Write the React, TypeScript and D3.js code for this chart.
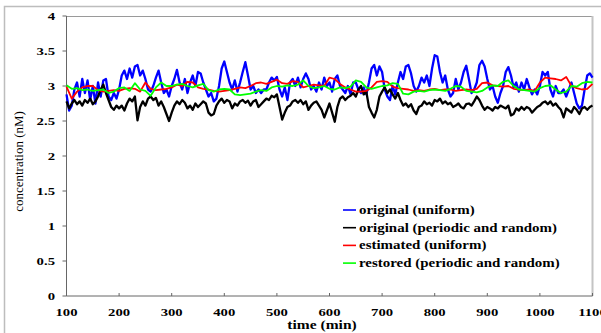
import React from 'react';
import * as d3 from 'd3';

// ---- data ----
const fineStart = 100; // minutes, step 5
const fineStep = 5;
const coarseStep = 10;

const originalUniform = [
  2.88, 2.65, 2.72, 2.95, 3.05, 2.85, 3.10, 2.90, 3.08, 2.80, 3.00, 2.75, 3.05, 2.85, 3.08, 3.10, 2.85, 2.80, 2.90, 2.82,
  2.95, 3.15, 3.22, 3.10, 3.25, 3.12, 3.28, 3.30, 3.15, 3.22, 3.10, 2.95, 2.92, 3.00, 3.12, 3.22, 3.05, 2.90, 2.95, 2.85,
  3.00, 3.10, 3.23, 3.05, 2.95, 3.10, 2.90, 3.05, 3.15, 3.00, 3.20, 3.18, 3.05, 2.95, 2.85, 2.90, 2.78, 2.82, 3.00, 3.25,
  3.35, 3.20, 3.05, 2.95, 3.08, 2.92, 3.05, 3.20, 3.34, 3.15, 2.95, 3.00, 2.90, 2.95, 2.90, 2.95, 2.95, 3.05, 3.12, 3.08,
  3.13, 2.95, 2.85, 2.98, 2.80, 3.05, 3.10, 3.00, 3.12, 2.98, 3.10, 3.18, 3.10, 2.95, 3.00, 2.92, 3.05, 2.95, 3.12, 3.00,
  3.05, 2.92, 3.10, 3.15, 3.00, 2.95, 2.90, 3.00, 2.88, 3.05, 3.05, 2.95, 2.90, 2.98, 2.88, 3.05, 3.25, 3.30, 3.15, 3.28,
  3.20, 2.95, 2.85, 2.80, 3.00, 2.88, 3.05, 3.20, 3.10, 3.28, 3.30, 3.18, 3.00, 2.92, 3.00, 3.12, 3.05, 3.15, 3.00, 3.25,
  3.44, 3.42, 3.20, 3.05, 3.15, 2.95, 2.85, 2.90, 3.10, 2.95, 3.05, 3.20, 3.29, 3.10, 2.90, 2.95, 3.05, 3.30, 3.36, 3.28,
  3.10, 2.95, 3.00, 2.85, 2.76, 2.90, 3.00, 3.20, 3.27, 3.15, 2.98, 3.05, 2.92, 3.05, 2.95, 3.10, 2.98, 2.88, 2.95, 2.88,
  3.00, 3.20, 3.15, 3.20, 2.95, 2.85, 3.00, 2.90, 2.90, 2.95, 2.85, 2.95, 3.05, 2.90, 2.75, 2.68, 2.72, 2.95, 3.15, 3.18,
  3.12,
];

const originalPeriodicRandom = [
  2.78, 2.68, 2.75, 2.80, 2.74, 2.78, 2.72, 2.80, 2.76, 2.82, 2.74, 2.78, 2.85, 2.95, 3.02, 2.90, 2.80, 2.70, 2.66, 2.72,
  2.68, 2.72, 2.65, 2.75, 2.82, 2.78, 2.85, 2.51, 2.70, 2.78, 2.72, 2.82, 2.85, 2.80, 2.83, 2.72, 2.78, 2.70, 2.60, 2.50,
  2.62, 2.72, 2.78, 2.74, 2.80, 2.76, 2.68, 2.72, 2.66, 2.75, 2.70, 2.74, 2.78, 2.75, 2.62, 2.58, 2.60, 2.72, 2.78, 2.82,
  2.76, 2.80, 2.78, 2.68, 2.75, 2.72, 2.78, 2.80, 2.76, 2.79, 2.72, 2.78, 2.80, 2.70, 2.74, 2.78, 2.82, 2.80, 2.86, 2.84,
  2.88, 2.70, 2.52, 2.62, 2.70, 2.72, 2.78, 2.80, 2.76, 2.80, 2.74, 2.78, 2.66, 2.72, 2.76, 2.78, 2.72, 2.66, 2.55, 2.65,
  2.75, 2.62, 2.49, 2.70, 2.82, 2.85, 2.80, 2.84, 2.86, 2.90, 2.85, 2.95, 3.00, 2.88, 2.92, 2.70, 2.62, 2.55, 2.66, 2.85,
  2.92, 2.98, 2.90, 2.95, 2.88, 2.82, 2.90, 2.80, 2.72, 2.75, 2.70, 2.74, 2.65, 2.60, 2.70, 2.72, 2.78, 2.74, 2.76, 2.72,
  2.80, 2.78, 2.82, 2.75, 2.78, 2.74, 2.76, 2.70, 2.72, 2.75, 2.70, 2.68, 2.74, 2.75, 2.72, 2.78, 2.85, 2.80, 2.72, 2.66,
  2.70, 2.68, 2.65, 2.70, 2.68, 2.72, 2.70, 2.68, 2.72, 2.58, 2.60, 2.68, 2.65, 2.70, 2.66, 2.70, 2.68, 2.62, 2.66, 2.70,
  2.72, 2.76, 2.78, 2.74, 2.78, 2.72, 2.75, 2.70, 2.66, 2.55, 2.68, 2.65, 2.62, 2.70, 2.66, 2.60, 2.68, 2.70, 2.66, 2.70,
  2.72,
];

const estimatedUniform = [
  2.99, 2.82, 2.92, 2.98, 3.00, 3.00, 2.94, 2.92, 2.93, 2.94,
  2.93, 2.96, 2.97, 2.96, 2.92, 3.05, 2.96, 2.94, 2.95, 2.96,
  2.98, 3.02, 3.00, 3.06, 3.05, 2.98, 2.96, 2.95, 2.93, 2.92,
  2.93, 2.94, 2.96, 2.98, 2.97, 3.00, 3.04, 3.05, 3.03, 3.06,
  3.09, 3.04, 3.03, 3.07, 3.06, 2.98, 3.00, 3.02, 3.01, 3.00,
  3.12, 3.10, 3.03, 2.98, 2.95, 2.92, 2.92, 2.93, 2.98, 3.06,
  3.07, 3.06, 2.99, 2.97, 2.96, 2.95, 2.93, 2.94, 2.93, 2.95,
  2.96, 2.94, 2.95, 2.95, 2.93, 2.94, 2.95, 2.94, 2.96, 3.04,
  3.05, 3.01, 3.00, 2.99, 3.00, 2.96, 2.95, 2.94, 2.95, 2.93,
  3.05, 3.12, 3.11, 3.10, 3.08, 3.13, 3.00, 2.97, 2.95, 2.96,
  3.03,
];

const restoredPeriodicRandom = [
  3.01, 2.96, 2.97, 2.94, 2.95, 2.93, 2.94, 2.95, 2.90, 2.92,
  2.97, 2.98, 2.93, 3.04, 2.95, 2.93, 2.86, 2.98, 3.05, 3.00,
  3.00, 3.02, 3.03, 3.00, 2.98, 3.01, 3.03, 2.94, 2.92, 2.95,
  2.96, 2.95, 2.88, 2.87, 2.88, 2.89, 2.92, 2.94, 2.93, 2.98,
  3.00, 2.99, 3.01, 3.00, 3.02, 3.08, 3.00, 2.97, 2.98, 3.00,
  2.96, 2.95, 2.98, 2.97, 2.99, 3.08, 3.06, 2.98, 2.96, 2.98,
  3.00, 3.01, 3.04, 3.03, 2.89, 2.88, 2.92, 2.93, 2.92, 2.94,
  2.95, 2.94, 2.93, 2.96, 3.00, 2.99, 2.93, 2.92, 2.91, 2.93,
  2.98, 3.01, 3.00, 3.06, 3.08, 3.00, 2.95, 2.94, 2.93, 2.92,
  2.97, 3.00, 3.01, 2.95, 2.90, 2.92, 3.00, 2.99, 3.04, 3.06,
  3.05,
];

const yTickValues = [0, 0.5, 1, 1.5, 2, 2.5, 3, 3.5, 4];
const xTickValues = [100, 200, 300, 400, 500, 600, 700, 800, 900, 1000, 1100];
const legendLabels = [
  'original (uniform)',
  'original (periodic and random)',
  'estimated (uniform)',
  'restored (periodic and random)',
];
const seriesColors = ['#0000ff', '#000000', '#ff0000', '#00ff00'];
const seriesWidths = [2.3, 2.3, 1.8, 1.8];

const serif = "'Liberation Serif', 'Times New Roman', serif";

function SText({ x, y, sx = 1.4, size = 10.5, anchor = 'start', bold = true, children }: any) {
  return (
    <g transform={`translate(${x},${y}) scale(${sx},1)`}>
      <text
        x={0}
        y={0}
        fontFamily={serif}
        fontSize={size}
        fontWeight={bold ? 'bold' : 'normal'}
        textAnchor={anchor}
        fill="#000"
      >
        {children}
      </text>
    </g>
  );
}

export default function App() {
  const W = 601;
  const H = 333;
  const left = 66.5;
  const right = 592.5;
  const top = 16;
  const bottom = 296;

  const x = d3.scaleLinear().domain([100, 1100]).range([left, right]);
  const y = d3.scaleLinear().domain([0, 4]).range([bottom, top]);

  const mk = (vals: number[], step: number) =>
    vals.map((v, i) => [fineStart + i * step, v] as [number, number]);

  const series = [
    mk(originalUniform, fineStep),
    mk(originalPeriodicRandom, fineStep),
    mk(estimatedUniform, coarseStep),
    mk(restoredPeriodicRandom, coarseStep),
  ];

  const line = d3
    .line<[number, number]>()
    .x((d) => x(d[0]))
    .y((d) => y(d[1]));

  const legendY0 = 210;
  const legendDy = 17.7;

  return (
    <svg
      width={W}
      height={H}
      style={{ position: 'absolute', left: 0, top: 0, background: '#fff' }}
    >
      <rect x={0} y={0} width={W} height={H} fill="#fff" />
      {/* outer frame */}
      <rect x={4.5} y={6.5} width={700} height={400} fill="none" stroke="#bdbdbd" strokeWidth={1.5} />

      {/* plot frame */}
      <line x1={left} x2={right} y1={top + 0.5} y2={top + 0.5} stroke="#9a9a9a" strokeWidth={1} />
      <line x1={right} x2={right} y1={top} y2={bottom} stroke="#c4c4c4" strokeWidth={2} />
      <line x1={left} x2={left} y1={top} y2={bottom} stroke="#666" strokeWidth={1} />
      <line x1={left} x2={right} y1={bottom} y2={bottom} stroke="#666" strokeWidth={1} />

      {/* y ticks */}
      {yTickValues.map((v) => (
        <g key={'y' + v}>
          <line x1={left - 4} x2={left} y1={y(v)} y2={y(v)} stroke="#666" strokeWidth={1} />
          <SText x={55} y={y(v) + 3.6} anchor="end">
            {String(v)}
          </SText>
        </g>
      ))}

      {/* x ticks */}
      {xTickValues.map((v) => (
        <g key={'x' + v}>
          <line x1={x(v)} x2={x(v)} y1={bottom - 3} y2={bottom} stroke="#666" strokeWidth={1} />
          <SText x={x(v)} y={316} anchor="middle">
            {String(v)}
          </SText>
        </g>
      ))}

      {/* axis titles */}
      <SText x={322} y={329} anchor="middle" size={11.5} sx={1.35}>
        time (min)
      </SText>
      <text
        transform={`translate(23,161.5) rotate(-90)`}
        fontFamily={serif}
        fontSize={13}
        textAnchor="middle"
        fill="#000"
      >
        concentration (nM)
      </text>

      {/* series */}
      {series.map((s, i) => (
        <path
          key={'s' + i}
          d={line(s) || ''}
          fill="none"
          stroke={seriesColors[i]}
          strokeWidth={seriesWidths[i]}
          strokeLinejoin="round"
        />
      ))}

      {/* legend */}
      {legendLabels.map((lab, i) => (
        <g key={'l' + i}>
          <line
            x1={343}
            x2={356}
            y1={legendY0 + i * legendDy}
            y2={legendY0 + i * legendDy}
            stroke={seriesColors[i]}
            strokeWidth={1.6}
          />
          <SText x={359} y={legendY0 + i * legendDy + 4} size={11.5} sx={1.3}>
            {lab}
          </SText>
        </g>
      ))}
    </svg>
  );
}
